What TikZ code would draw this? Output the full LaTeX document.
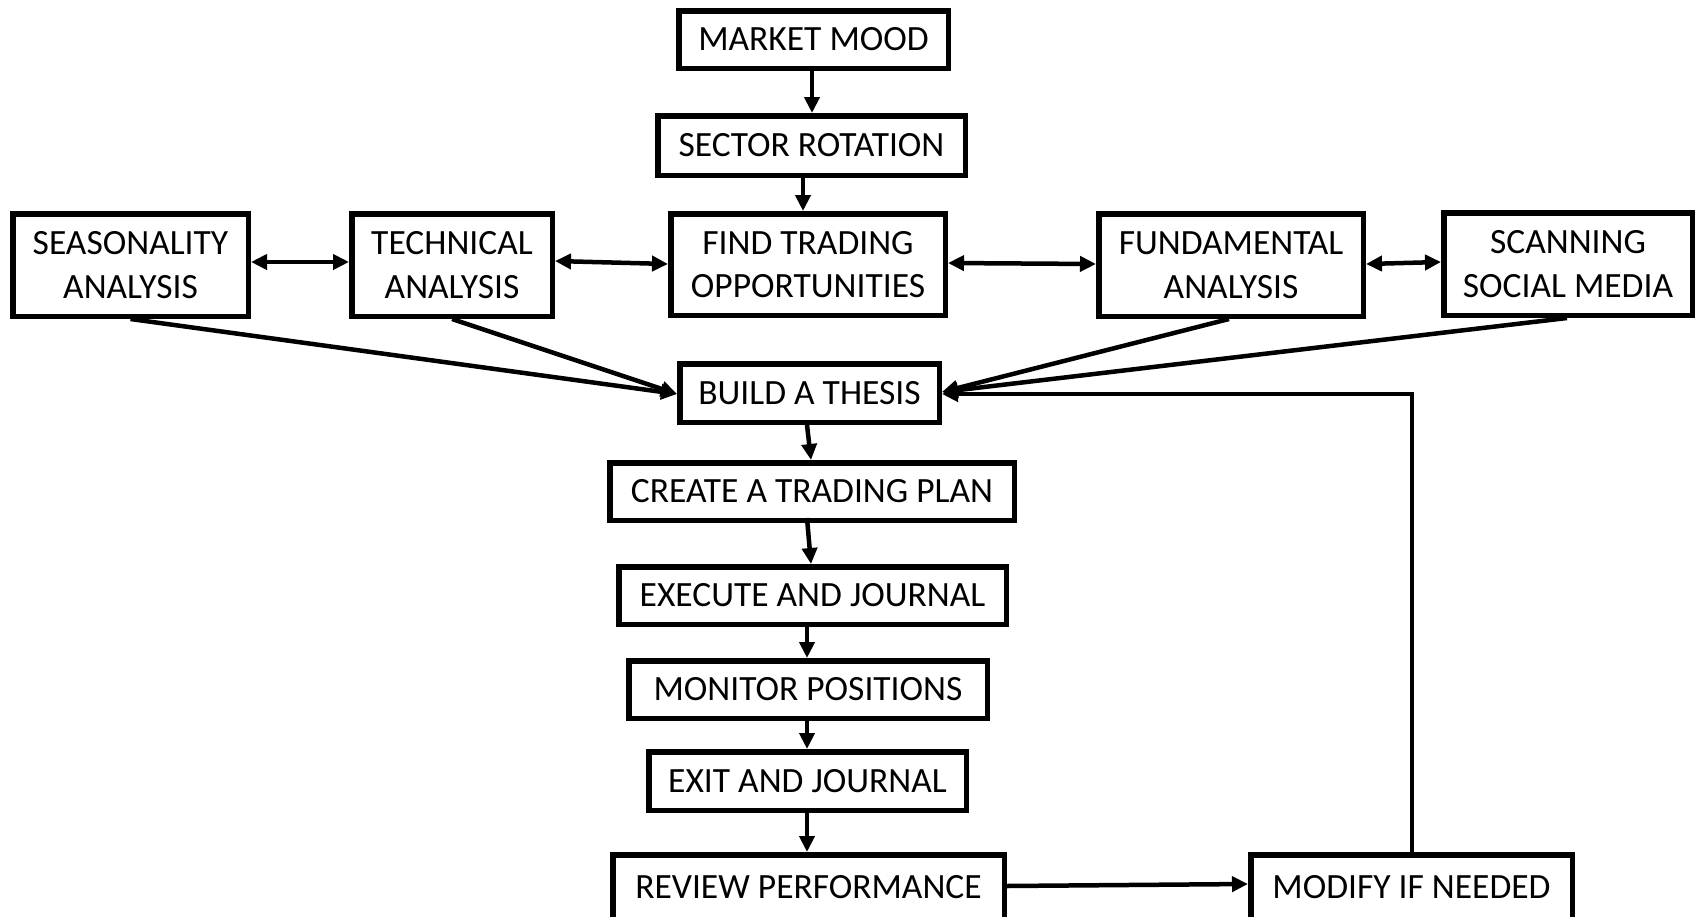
\documentclass[tikz,border=0pt]{standalone}
\usepackage{fontspec}
\setmainfont{Carlito}
\usetikzlibrary{arrows.meta}
\tikzset{
  box/.style={draw=black, line width=5.5pt, fill=white, inner sep=0pt, align=center,
    font=\fontsize{35.5}{43.5}\selectfont},
  arr/.style={line width=4.5pt, -{Triangle[length=16pt,width=15pt]}},
  darr/.style={line width=4.5pt, {Triangle[length=16pt,width=15pt]}-{Triangle[length=16pt,width=15pt]}},
  fb/.style={line width=4pt, -{Triangle[length=16pt,width=15pt]}}
}
\begin{document}
\begin{tikzpicture}[x=1pt,y=-1pt]
\clip (0,0) rectangle (1706,916);
\fill[white] (0,0) rectangle (1706,916);
% nodes
\node[box, minimum width=269.5pt, minimum height=57.5pt] (mood) at (813.5,39.5) {MARKET MOOD};
\node[box, minimum width=307.5pt, minimum height=59.5pt] (sector) at (811.5,145.5) {SECTOR ROTATION};
\node[box, minimum width=235.5pt, minimum height=102.5pt] (seas) at (130.5,265) {SEASONALITY\\ANALYSIS};
\node[box, minimum width=200.5pt, minimum height=102.5pt] (tech) at (452,265) {TECHNICAL\\ANALYSIS};
\node[box, minimum width=274.5pt, minimum height=101.5pt] (find) at (808,264.5) {FIND TRADING\\OPPORTUNITIES};
\node[box, minimum width=264.5pt, minimum height=102.5pt] (fund) at (1231,265) {FUNDAMENTAL\\ANALYSIS};
\node[box, minimum width=248.5pt, minimum height=102.5pt] (scan) at (1568,264) {SCANNING\\SOCIAL MEDIA};
\node[box, minimum width=259.5pt, minimum height=58.5pt] (thesis) at (809.5,393) {BUILD A THESIS};
\node[box, minimum width=404.5pt, minimum height=57.5pt] (plan) at (812,491.5) {CREATE A TRADING PLAN};
\node[box, minimum width=387.5pt, minimum height=57.5pt] (exec) at (812.5,595.5) {EXECUTE AND JOURNAL};
\node[box, minimum width=358.5pt, minimum height=57.5pt] (mon) at (808,689.5) {MONITOR POSITIONS};
\node[box, minimum width=317.5pt, minimum height=58.5pt] (exit) at (807.5,781) {EXIT AND JOURNAL};
\node[box, minimum width=391.5pt, minimum height=64.5pt] (review) at (808.5,887) {REVIEW PERFORMANCE};
\node[box, minimum width=321.5pt, minimum height=64.5pt] (modify) at (1411.5,887) {MODIFY IF NEEDED};
% vertical chain
\draw[arr] ([xshift=-1.5pt]mood.south) -- ([xshift=0.5pt]sector.north);
\draw[arr] ([xshift=-8.5pt,yshift=3pt]sector.south) -- ([xshift=-5pt]find.north);
\draw[arr] ([xshift=-2.5pt]thesis.south) -- ([xshift=-1pt]plan.north);
\draw[arr] ([xshift=-5pt,yshift=5pt]plan.south) -- ([xshift=-1.5pt]exec.north);
\draw[arr] ([xshift=-5.5pt,yshift=5pt]exec.south) -- ([xshift=-1pt]mon.north);
\draw[arr] ([xshift=-1pt]mon.south) -- ([xshift=-0.5pt]exit.north);
\draw[arr] ([xshift=-0.5pt,yshift=5pt]exit.south) -- ([xshift=-1.5pt]review.north);
% horizontal double arrows
\draw[darr] ([yshift=3pt]seas.east) -- ([yshift=3pt]tech.west);
\draw[darr] ([yshift=4pt]tech.east) -- ([yshift=0.5pt]find.west);
\draw[darr] ([yshift=1.5pt]find.east) -- ([yshift=1pt]fund.west);
\draw[darr] ([yshift=1pt]fund.east) -- ([yshift=2pt]scan.west);
% into thesis
\draw[arr] (seas.south) -- ([yshift=-1pt]thesis.west);
\draw[arr] (tech.south) -- ([yshift=-1pt]thesis.west);
\draw[arr] ([xshift=-2pt]fund.south) -- ([yshift=1pt]thesis.east);
\draw[arr] ([xshift=-1pt]scan.south) -- ([yshift=1pt]thesis.east);
% bottom
\draw[arr] ([yshift=1pt]review.east) -- ([yshift=3pt]modify.west);
\draw[fb] (modify.north) |- ([yshift=-1pt]thesis.east);
\end{tikzpicture}
\end{document}
